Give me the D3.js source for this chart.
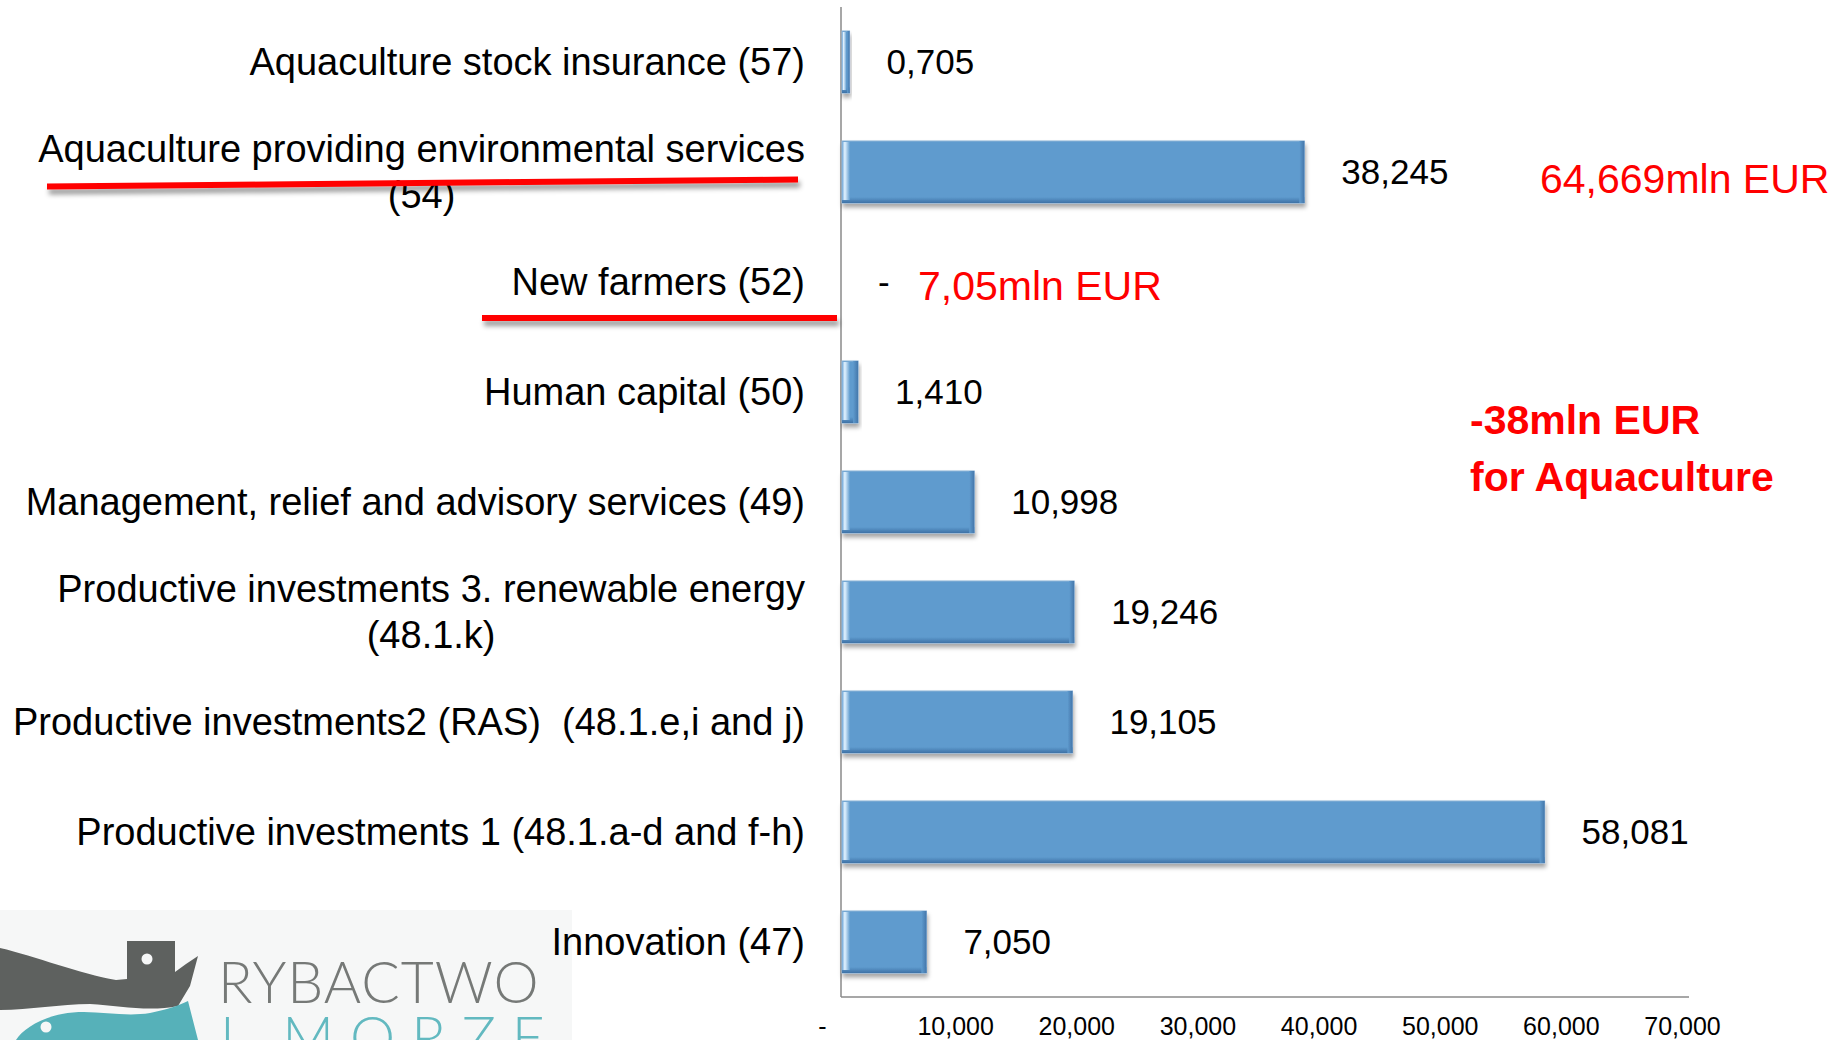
<!DOCTYPE html>
<html><head><meta charset="utf-8">
<script src="https://cdn.jsdelivr.net/npm/d3@7"></script>
<style>
html,body{margin:0;padding:0;background:#fff;overflow:hidden;}
svg{display:block;}
</style></head><body>
<svg id="chart" width="1845" height="1040"></svg>
<script>
// ---- data ----
const categories = [
  "Aquaculture stock insurance (57)",
  "Aquaculture providing environmental services\n(54)",
  "New farmers (52)",
  "Human capital (50)",
  "Management, relief and advisory services (49)",
  "Productive investments 3. renewable energy\n(48.1.k)",
  "Productive investments2 (RAS)  (48.1.e,i and j)",
  "Productive investments 1 (48.1.a-d and f-h)",
  "Innovation (47)"
];
const values = [705, 38245, 0, 1410, 10998, 19246, 19105, 58081, 7050];
const tickValues = [0, 10000, 20000, 30000, 40000, 50000, 60000, 70000];
const tickLabels = ["-", "10,000", "20,000", "30,000", "40,000", "50,000", "60,000", "70,000"];
const underlined = ["Aquaculture providing environmental services\n(54)", "New farmers (52)"];
const notes = ["64,669mln EUR", "7,05mln EUR", "-38mln EUR", "for Aquaculture"];
const logoTexts = ["RYBACTWO", "I MORZE"];

// ---- setup ----
const FONT = '"Liberation Sans", Arial, sans-serif';
const svg = d3.select("#chart");
const pLeft = 841, pRight = 1689, pTop = 7, pBottom = 997;

const x = d3.scaleLinear().domain([0, 70000]).range([pLeft, pRight]);
const y = d3.scaleBand().domain(categories).range([pTop, pBottom]).paddingInner(0.436).paddingOuter(0.218);

const defs = svg.append("defs");
const fs = defs.append("filter").attr("id", "shadow").attr("x", "-10%").attr("y", "-30%").attr("width", "130%").attr("height", "180%");
fs.append("feDropShadow").attr("dx", 1).attr("dy", 4).attr("stdDeviation", 2).attr("flood-color", "#000").attr("flood-opacity", 0.35);
const fl = defs.append("filter").attr("id", "lshadow").attr("x", "-5%").attr("y", "-200%").attr("width", "110%").attr("height", "500%");
fl.append("feDropShadow").attr("dx", 2).attr("dy", 5).attr("stdDeviation", 2.5).attr("flood-color", "#000").attr("flood-opacity", 0.4);

const gl = defs.append("linearGradient").attr("id", "leftHi").attr("x1", 0).attr("x2", 1).attr("y1", 0).attr("y2", 0);
gl.append("stop").attr("offset", "0%").attr("stop-color", "#6ea6d8");
gl.append("stop").attr("offset", "35%").attr("stop-color", "#e3f3ff");
gl.append("stop").attr("offset", "100%").attr("stop-color", "#5f9bce");
const gb = defs.append("linearGradient").attr("id", "botDk").attr("x1", 0).attr("x2", 0).attr("y1", 0).attr("y2", 1);
gb.append("stop").attr("offset", "0%").attr("stop-color", "#5f9bce");
gb.append("stop").attr("offset", "100%").attr("stop-color", "#3e72a6");
const gr = defs.append("linearGradient").attr("id", "rightDk").attr("x1", 0).attr("x2", 1).attr("y1", 0).attr("y2", 0);
gr.append("stop").attr("offset", "0%").attr("stop-color", "#5f9bce");
gr.append("stop").attr("offset", "100%").attr("stop-color", "#4477ab");

// ---- logo (background decoration, bottom-left) ----
const logo = svg.append("g");
logo.append("rect").attr("x", 0).attr("y", 910).attr("width", 572).attr("height", 130).attr("fill", "#f6f7f7");
logo.append("path").attr("fill", "#5e615f")
  .attr("d", "M0,948 C35,956 80,974 116,980 L127,979 L127,941 L175,941 L175,972 L186,964 L198,956 L190,986 L178,1006 C150,1012 120,1006 90,1004 C60,1004 30,1010 0,1010 Z");
logo.append("circle").attr("cx", 147).attr("cy", 959).attr("r", 5.5).attr("fill", "#f6f7f7");
logo.append("path").attr("fill", "#56b1b9")
  .attr("d", "M16,1040 C22,1030 40,1018 62,1014 C92,1008 120,1018 150,1013 C165,1010 178,1006 188,1001 L198,1040 Z");
logo.append("circle").attr("cx", 46).attr("cy", 1027).attr("r", 5.5).attr("fill", "#f6f7f7");
logo.append("text").text(logoTexts[0]).attr("x", 218).attr("y", 1003)
  .attr("font-family", '"Lato", "Liberation Sans", sans-serif').attr("font-weight", 300)
  .attr("font-size", 57).attr("fill", "#767977").attr("letter-spacing", 1);
logo.append("text").text(logoTexts[1]).attr("x", 220).attr("y", 1058)
  .attr("font-family", '"Lato", "Liberation Sans", sans-serif').attr("font-weight", 300)
  .attr("font-size", 57).attr("fill", "#62b9c0").attr("letter-spacing", 16);

// ---- axes lines ----
svg.append("line").attr("x1", pLeft).attr("x2", pLeft).attr("y1", pTop).attr("y2", pBottom)
  .attr("stroke", "#8a8a8a").attr("stroke-width", 1.5);
svg.append("line").attr("x1", pLeft).attr("x2", pRight).attr("y1", pBottom).attr("y2", pBottom)
  .attr("stroke", "#8a8a8a").attr("stroke-width", 1.5);

// ---- bars ----
const bars = svg.append("g").selectAll("g").data(categories).join("g").attr("filter", "url(#shadow)");
bars.each(function (c, i) {
  const v = values[i];
  if (v <= 0) return;
  const g = d3.select(this);
  const x0 = x(0) + 1, x1 = x(v), y0 = y(c), h = y.bandwidth(), w = x1 - x0;
  g.append("rect").attr("x", x0).attr("y", y0).attr("width", w).attr("height", h)
    .attr("fill", "#5f9bce").attr("stroke", "#8db3d8").attr("stroke-width", 1);
  g.append("rect").attr("x", x0).attr("y", y0 + h - 6).attr("width", w).attr("height", 6).attr("fill", "url(#botDk)");
  g.append("rect").attr("x", x1 - Math.min(5, w / 3)).attr("y", y0).attr("width", Math.min(5, w / 3)).attr("height", h).attr("fill", "url(#rightDk)");
  g.append("rect").attr("x", x0).attr("y", y0 + 1).attr("width", Math.min(8, w * 0.6)).attr("height", h - 4).attr("fill", "url(#leftHi)");
});

// ---- value labels ----
const fmtVal = v => v === 0 ? "-" : Math.floor(v / 1000) + "," + String(v % 1000).padStart(3, "0");
svg.append("g").selectAll("text").data(categories).join("text")
  .attr("x", (c, i) => x(values[i]) + 37)
  .attr("y", c => y(c) + y.bandwidth() / 2 + 12)
  .attr("font-family", FONT).attr("font-size", 35).attr("fill", "#000")
  .text((c, i) => fmtVal(values[i]));

// ---- category labels ----
const labelRight = 805, lineGap = 46;
const lab = svg.append("g");
categories.forEach(c => {
  const lines = c.split("\n");
  const cy = y(c) + y.bandwidth() / 2;
  const ts = lines.map((ln, j) => lab.append("text").text(ln)
    .attr("font-family", FONT).attr("font-size", 38).attr("fill", "#000")
    .style("white-space", "pre")
    .attr("y", cy + (j - (lines.length - 1) / 2) * lineGap + 13));
  if (lines.length === 1) {
    ts[0].attr("x", labelRight).attr("text-anchor", "end");
  } else {
    const wMax = d3.max(ts, t => t.node().getComputedTextLength());
    ts.forEach(t => t.attr("x", labelRight - wMax / 2).attr("text-anchor", "middle"));
  }
});

// ---- x axis tick labels ----
const xAxis = d3.axisBottom(x).tickValues(tickValues).tickFormat((d, i) => tickLabels[i]).tickSize(0).tickPadding(20);
const gx = svg.append("g").attr("transform", `translate(0,${pBottom})`).call(xAxis)
  .attr("font-family", FONT).attr("font-size", 25);
gx.select(".domain").remove();
gx.selectAll(".tick text").attr("fill", "#000").attr("dx", d => d === 0 ? -19 : -7);

// ---- red underlines ----
const ul = svg.append("g").attr("filter", "url(#lshadow)");
const c1 = y(underlined[0]) + y.bandwidth() / 2;
ul.append("line").attr("x1", 47).attr("y1", c1 + 14.5).attr("x2", 798).attr("y2", c1 + 7.5)
  .attr("stroke", "#ff0000").attr("stroke-width", 6);
const c2 = y(underlined[1]) + y.bandwidth() / 2;
ul.append("line").attr("x1", 482).attr("y1", c2 + 36).attr("x2", 837).attr("y2", c2 + 36)
  .attr("stroke", "#ff0000").attr("stroke-width", 6);

// ---- red annotations ----
const ann = svg.append("g").attr("font-family", FONT).attr("font-size", 41).attr("fill", "#ff0000");
ann.append("text").attr("x", 1540).attr("y", y(categories[1]) + y.bandwidth() / 2 + 21).text(notes[0]);
ann.append("text").attr("x", 918).attr("y", y(categories[2]) + y.bandwidth() / 2 + 18).text(notes[1]);
ann.append("text").attr("x", 1470).attr("y", 434).attr("font-weight", "bold").text(notes[2]);
ann.append("text").attr("x", 1470).attr("y", 491).attr("font-weight", "bold").text(notes[3]);
</script>
</body></html>
